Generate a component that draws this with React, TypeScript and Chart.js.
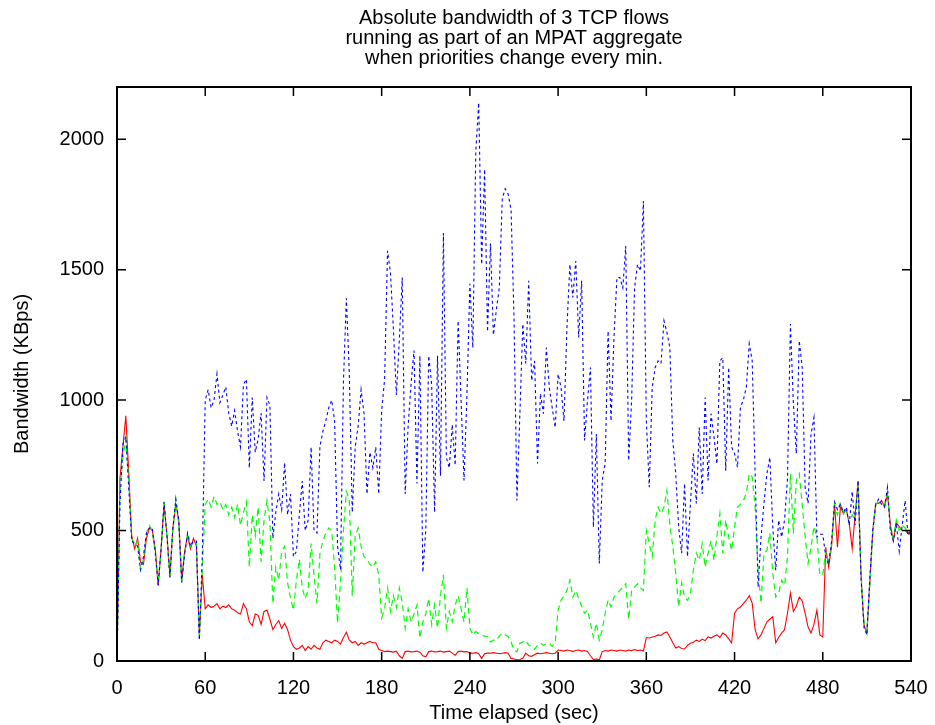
import React, { useEffect, useRef } from 'react';
import { Chart, registerables } from 'chart.js';

Chart.register(...registerables);

const TITLE_LINES = [
  'Absolute bandwidth of 3 TCP flows',
  'running as part of an MPAT aggregate',
  'when priorities change every min.',
];
const X_LABEL = 'Time elapsed (sec)';
const Y_LABEL = 'Bandwidth (KBps)';

// one sample every 2 seconds, starting at t = 0
const SAMPLE_INTERVAL_SEC = 2;
const X_TICKS = [0, 60, 120, 180, 240, 300, 360, 420, 480, 540];
const Y_TICKS = [0, 500, 1000, 1500, 2000];

const RED = [
  0, 700, 820, 940, 720, 480, 430, 470, 380, 370, 470, 510, 500, 430, 290, 430, 600, 480, 330, 510, 600, 540, 310, 420, 480, 430, 470, 440, 100, 330,
  200, 215, 205, 210, 220, 200, 210, 205, 215, 200, 195, 185, 180, 220, 200, 150, 135, 180, 175, 140, 190, 195, 160, 120, 140, 155, 125, 145, 120, 80,
  55, 45, 50, 60, 40, 55, 45, 60, 50, 45, 70, 80, 75, 70, 80, 75, 65, 90, 110, 80, 70, 75, 60, 70, 65, 70, 75, 70, 70, 45,
  40, 36, 38, 36, 34, 38, 20, 10, 36, 38, 35, 36, 38, 34, 20, 16, 36, 38, 35, 36, 38, 34, 36, 38, 30, 22, 36, 38, 35, 36,
  30, 30, 32, 28, 10, 28, 30, 30, 32, 30, 28, 30, 32, 30, 10, 8, 5, 6, 10, 30, 20, 18, 25, 30, 28, 30, 32, 30, 28, 30,
  42, 40, 38, 42, 40, 36, 40, 42, 38, 40, 36, 20, 5, 8, 4, 36, 40, 38, 42, 40, 38, 42, 40, 38, 42, 40, 44, 40, 42, 38,
  90, 88, 92, 95, 100, 98, 107, 111, 92, 70, 50, 55, 48, 46, 60, 68, 72, 80, 75, 84, 78, 92, 88, 95, 100, 90, 107, 100, 85, 70,
  183, 200, 207, 220, 233, 250, 222, 120, 85, 100, 125, 150, 160, 170, 70, 90, 107, 120, 183, 260, 190, 210, 245, 230, 183, 130, 107, 140, 195, 100,
  92, 436, 360, 440, 600, 436, 590, 566, 580, 527, 430, 560, 690, 330, 140, 107, 300, 500, 604, 604, 615, 590, 640, 520, 462, 530, 515, 500, 500, 490, 500,
];

const GREEN = [
  0, 650, 780, 850, 690, 470, 440, 460, 350, 390, 490, 520, 500, 410, 300, 420, 610, 470, 320, 500, 620, 520, 300, 410, 490, 440, 460, 450, 85, 350,
  600, 620, 590, 630, 600, 610, 580, 600, 560, 590, 550, 600, 520, 570, 610, 360, 560, 480, 590, 380, 540, 615, 530, 220, 360, 310, 420, 440, 300, 240,
  195, 310, 390, 280, 240, 270, 450, 330, 220, 410, 460, 490, 510, 500, 360, 145, 300, 500, 650, 620, 250, 480, 510, 440, 400, 390, 370, 360, 380, 330,
  165, 200, 280, 190, 250, 205, 280, 225, 125, 200, 150, 180, 215, 88, 150, 180, 240, 140, 215, 126, 250, 330, 126, 190, 150, 215, 250, 200, 150, 280,
  126, 100, 113, 105, 100, 95, 94, 73, 80, 80, 95, 107, 100, 94, 73, 42, 35, 68, 73, 80, 60, 56, 45, 60, 68, 60, 65, 68, 56, 70,
  195, 233, 250, 270, 310, 245, 270, 240, 210, 183, 195, 145, 92, 145, 80, 120, 183, 233, 208, 245, 260, 270, 283, 296, 160, 270, 283, 296, 280, 270,
  500, 450, 400, 540, 590, 565, 590, 653, 520, 440, 336, 207, 300, 245, 232, 260, 348, 413, 386, 450, 360, 413, 462, 386, 480, 565, 413, 540, 475, 424,
  513, 590, 600, 615, 642, 718, 705, 590, 348, 222, 413, 424, 490, 336, 245, 260, 310, 290, 400, 718, 488, 692, 718, 600, 480, 374, 436, 515, 476, 330,
  330, 420, 380, 450, 600, 560, 610, 560, 590, 530, 560, 540, 680, 340, 150, 110, 290, 490, 600, 610, 605, 600, 650, 500, 470, 540, 500, 520, 510, 490, 500,
];

const BLUE = [
  0, 600, 830, 860, 660, 460, 450, 440, 350, 400, 490, 510, 510, 420, 290, 430, 610, 480, 320, 510, 620, 540, 300, 410, 490, 440, 460, 460, 80, 400,
  1000, 1040, 970, 1000, 1100, 990, 1020, 1050, 950, 900, 960, 880, 820, 1060, 1080, 740, 1010, 800, 850, 950, 690, 1010, 980, 470, 570, 640, 580, 760, 560, 640,
  400, 420, 560, 690, 500, 540, 820, 500, 490, 820, 880, 920, 970, 1000, 920, 440, 350, 1070, 1390, 1100, 570, 820, 900, 1040, 950, 640, 800, 740, 820, 640,
  960, 1080, 1572, 1487, 1270, 1020, 1230, 1470, 640, 900, 1063, 1190, 680, 1170, 340, 500, 1170, 1060, 570, 1170, 710, 1640, 780, 740, 906, 750, 1304, 1000, 692, 1020,
  1446, 1200, 1950, 2140, 1520, 1885, 1262, 1600, 1250, 1346, 1430, 1770, 1810, 1790, 1730, 1318, 615, 948, 1292, 1140, 1457, 1075, 1150, 757, 1025, 948, 1201, 1048, 970, 895,
  1100, 1048, 920, 1277, 1520, 1393, 1533, 1240, 1457, 845, 1000, 1125, 513, 870, 374, 692, 757, 1265, 920, 1240, 1470, 1470, 1430, 1590, 768, 1000, 1430, 1520, 1495, 1763,
  922, 666, 1048, 1125, 1150, 1140, 1304, 1260, 1200, 845, 718, 513, 413, 680, 400, 604, 795, 604, 895, 640, 1010, 692, 948, 860, 755, 1150, 1163, 729, 1125, 820,
  795, 742, 973, 1000, 1050, 1216, 1150, 718, 283, 475, 604, 718, 780, 513, 348, 540, 475, 540, 700, 1292, 986, 795, 1228, 1125, 666, 604, 870, 933, 475, 486,
  486, 400, 370, 460, 610, 580, 600, 570, 590, 520, 650, 520, 692, 320, 130, 100, 320, 500, 600, 620, 600, 590, 666, 500, 460, 530, 420, 520, 615, 480, 500,
];

const FONT_FAMILY = "'Liberation Sans', Arial, Helvetica, sans-serif";
const FONT_SIZE = 20;

const toPoints = (values: number[]) =>
  values.map((v, i) => ({ x: i * SAMPLE_INTERVAL_SEC, y: v }));

const framePlugin = {
  id: 'gnuplotFrame',
  afterDatasetsDraw(chart: any) {
    const { ctx, chartArea } = chart;
    const { left, right, top, bottom } = chartArea;
    const xs = chart.scales.x;
    const ys = chart.scales.y;
    const tickLen = 9;
    ctx.save();
    ctx.strokeStyle = '#000';
    ctx.lineWidth = 1.5;
    ctx.beginPath();
    X_TICKS.forEach((v) => {
      const px = xs.getPixelForValue(v);
      ctx.moveTo(px, bottom);
      ctx.lineTo(px, bottom - tickLen);
      ctx.moveTo(px, top);
      ctx.lineTo(px, top + tickLen);
    });
    Y_TICKS.forEach((v) => {
      const py = ys.getPixelForValue(v);
      ctx.moveTo(left, py);
      ctx.lineTo(left + tickLen, py);
      ctx.moveTo(right, py);
      ctx.lineTo(right - tickLen, py);
    });
    ctx.stroke();
    ctx.lineWidth = 2;
    ctx.strokeRect(left, top, right - left, bottom - top);
    ctx.restore();
  },
  afterDraw(chart: any) {
    const { ctx, chartArea } = chart;
    const cx = (chartArea.left + chartArea.right) / 2;
    ctx.save();
    ctx.fillStyle = '#000';
    ctx.font = `${FONT_SIZE}px ${FONT_FAMILY}`;
    ctx.textAlign = 'center';
    ctx.textBaseline = 'alphabetic';
    TITLE_LINES.forEach((line, i) => {
      ctx.fillText(line, cx, 24 + i * 20);
    });
    ctx.restore();
  },
};

export default function App() {
  const canvasRef = useRef<HTMLCanvasElement | null>(null);

  useEffect(() => {
    if (!canvasRef.current) return;
    const font = { family: FONT_FAMILY, size: FONT_SIZE };
    const chart = new Chart(canvasRef.current, {
      type: 'line',
      data: {
        datasets: [
          {
            label: 'flow 1',
            data: toPoints(RED),
            borderColor: '#ff0000',
            borderWidth: 1.1,
            pointRadius: 0,
            tension: 0,
            fill: false,
            order: 3,
          },
          {
            label: 'flow 2',
            data: toPoints(GREEN),
            borderColor: '#00ff00',
            borderWidth: 1.2,
            borderDash: [6, 4],
            pointRadius: 0,
            tension: 0,
            fill: false,
            order: 2,
          },
          {
            label: 'flow 3',
            data: toPoints(BLUE),
            borderColor: '#0000ff',
            borderWidth: 1.1,
            borderDash: [3, 3],
            pointRadius: 0,
            tension: 0,
            fill: false,
            order: 1,
          },
        ],
      },
      options: {
        animation: false,
        responsive: false,
        devicePixelRatio: 1,
        events: [],
        layout: { padding: { top: 87, right: 24, left: 0, bottom: 0 } },
        plugins: {
          legend: { display: false },
          title: { display: false },
          tooltip: { enabled: false },
        },
        scales: {
          x: {
            type: 'linear',
            min: 0,
            max: 540,
            ticks: {
              stepSize: 60,
              font,
              color: '#000',
              padding: 15,
              maxRotation: 0,
              autoSkip: false,
              callback: (v: any) => String(v),
            },
            afterBuildTicks: (s: any) => {
              s.ticks = X_TICKS.map((v) => ({ value: v }));
            },
            afterFit: (s: any) => {
              s.height = 64;
              s.paddingLeft = 0;
              s.paddingRight = 0;
            },
            grid: { display: false, drawTicks: false },
            border: { display: false },
            title: {
              display: true,
              text: X_LABEL,
              font,
              color: '#000',
              padding: { top: 0, bottom: 0 },
            },
          },
          y: {
            type: 'linear',
            min: 0,
            max: 2200,
            ticks: {
              stepSize: 500,
              font,
              color: '#000',
              padding: 13,
              callback: (v: any) => String(v),
            },
            afterBuildTicks: (s: any) => {
              s.ticks = Y_TICKS.map((v) => ({ value: v }));
            },
            afterFit: (s: any) => {
              s.width = 117;
              s.paddingTop = 0;
              s.paddingBottom = 0;
            },
            grid: { display: false, drawTicks: false },
            border: { display: false },
            title: {
              display: true,
              text: Y_LABEL,
              font,
              color: '#000',
              padding: { top: 10, bottom: 0 },
            },
          },
        },
      },
      plugins: [framePlugin],
    });
    return () => chart.destroy();
  }, []);

  return (
    <div style={{ position: 'absolute', left: 0, top: 0, width: 935, height: 725, background: '#fff' }}>
      <canvas ref={canvasRef} width={935} height={725} style={{ display: 'block', width: 935, height: 725 }} />
    </div>
  );
}
